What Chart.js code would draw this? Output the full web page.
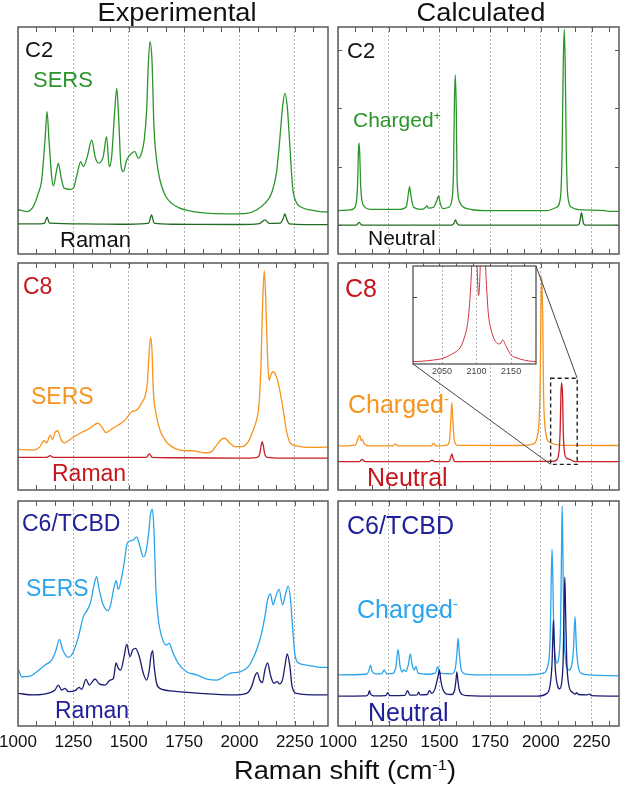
<!DOCTYPE html>
<html>
<head>
<meta charset="utf-8">
<script src="https://cdn.jsdelivr.net/npm/chart.js@4.4.1/dist/chart.umd.min.js"></script>
<style>
  html, body { margin: 0; padding: 0; background: #fff; overflow: hidden; }
  #fig { position: relative; width: 622px; height: 798px; font-family: "Liberation Sans", Arial, sans-serif; }
  #fig canvas { position: absolute; }
  .lbl { position: absolute; line-height: 1; white-space: nowrap; z-index: 5; }
  .ttl { position: absolute; line-height: 1; white-space: nowrap; font-size: 25px; color: #111; z-index: 5;
         transform: translateX(-50%) scaleX(1.09); }
  sup { font-size: 0.6em; position: relative; top: -0.6em; vertical-align: baseline; }
</style>
</head>
<body>
<div id="fig"></div>
<script>
// ---------- DADOS ----------
const xTicks = [1000, 1250, 1500, 1750, 2000, 2250];
const insetTicks = [2050, 2100, 2150];

// C2 - experimental
const c2Sers = [[1000,19.5],[1039,18.7],[1069,20.9],[1092,26.8],[1107,32.6],[1122,50.2],[1131,62.7],[1140,50.2],[1152,34.1],[1160,30.0],[1172,35.6],[1182,40.0],[1194,34.1],[1208,29.0],[1235,28.5],[1250,29.0],[1268,35.6],[1283,40.7],[1295,38.5],[1313,42.9],[1333,50.2],[1348,42.9],[1363,40.0],[1385,42.9],[1400,51.7],[1412,38.5],[1423,42.9],[1435,60.5],[1446,73.0],[1455,59.1],[1464,40.0],[1476,36.3],[1491,41.4],[1513,44.4],[1528,45.1],[1543,42.2],[1558,44.4],[1570,50.2],[1581,63.5],[1588,82.5],[1596,93.6],[1605,85.5],[1614,56.1],[1626,41.4],[1641,32.6],[1664,26.0],[1694,22.3],[1731,20.2],[1791,18.7],[1867,17.9],[1972,17.7],[2032,17.9],[2077,19.4],[2115,22.3],[2145,26.8],[2167,35.6],[2182,50.2],[2195,64.9],[2205,70.8],[2216,64.9],[2228,47.3],[2240,29.7],[2255,23.1],[2280,20.6],[2318,19.4],[2363,18.7],[2400,18.5]];
const c2Raman = [[1000,13.3],[1100,13.3],[1120,13.6],[1131,16.2],[1142,13.6],[1300,13.3],[1500,13.1],[1590,13.6],[1603,17.2],[1615,13.6],[1700,13.1],[2000,13.0],[2090,13.4],[2115,15.0],[2135,13.5],[2185,13.6],[2197,15.5],[2205,17.7],[2213,15.5],[2225,13.3],[2400,12.9]];
// C2 - calculado
const c2Charged = [[1000,19.1],[1061,19.4],[1086,20.9],[1096,29.7],[1101,45.8],[1104,48.8],[1107,44.4],[1112,29.7],[1124,21.6],[1160,19.7],[1307,19.7],[1337,20.9],[1346,26.0],[1353,29.7],[1360,25.3],[1373,20.6],[1414,19.7],[1432,20.6],[1438,21.3],[1446,20.2],[1471,20.6],[1488,23.8],[1496,25.6],[1504,22.3],[1517,20.0],[1545,20.6],[1561,23.8],[1569,35.6],[1574,67.9],[1578,78.9],[1583,63.5],[1587,32.6],[1599,23.1],[1627,20.2],[1733,19.1],[2028,19.1],[2077,20.6],[2097,25.3],[2105,47.3],[2110,82.5],[2115,99.0],[2120,82.5],[2125,45.8],[2133,25.3],[2151,20.6],[2209,19.4],[2320,19.1],[2330,18.8],[2385,18.8]];
const c2Neutral = [[1000,12.7],[1090,12.7],[1104,13.9],[1118,12.7],[1560,12.7],[1572,13.6],[1579,15.0],[1586,13.6],[1598,12.7],[2180,12.7],[2190,13.5],[2196,16.5],[2200,18.2],[2204,16.5],[2210,13.5],[2220,12.7],[2385,12.7]];

// C8 - experimental
const c8Sers = [[1000,17.9],[1069,17.6],[1097,18.8],[1118,21.7],[1130,20.8],[1145,24.2],[1155,22.3],[1167,25.3],[1179,26.1],[1194,22.3],[1210,20.8],[1243,22.8],[1280,25.0],[1325,27.2],[1360,29.4],[1378,27.9],[1397,25.3],[1428,27.2],[1453,28.6],[1483,30.8],[1513,34.5],[1536,35.2],[1558,38.2],[1573,41.1],[1584,47.0],[1593,61.7],[1599,67.2],[1605,61.7],[1611,44.0],[1623,33.8],[1641,26.4],[1664,22.0],[1694,19.1],[1731,17.6],[1791,17.2],[1852,16.4],[1874,16.9],[1897,19.8],[1919,22.3],[1934,22.8],[1957,20.6],[1980,19.1],[2010,19.1],[2040,21.3],[2062,26.4],[2077,30.8],[2089,38.2],[2097,54.3],[2104,79.3],[2112,96.6],[2119,83.7],[2127,58.7],[2134,48.2],[2140,50.2],[2152,52.1],[2167,49.9],[2182,44.0],[2198,35.2],[2213,25.7],[2231,20.6],[2258,19.4],[2303,18.8],[2363,18.8],[2400,18.9]];
const c8Raman = [[1000,14.4],[1130,14.4],[1145,15.1],[1160,14.4],[1580,14.4],[1593,15.9],[1606,14.4],[1750,14.2],[2000,14.0],[2080,14.4],[2092,16.0],[2098,19.5],[2103,21.3],[2108,19.5],[2114,16.0],[2125,14.4],[2250,14.0],[2400,14.0]];
// C8 - calculado
const c8Charged = [[1000,19.4],[1086,19.8],[1097,22.3],[1107,24.1],[1115,21.7],[1120,22.3],[1130,20.3],[1160,19.4],[1270,19.4],[1283,20.3],[1296,19.4],[1460,19.4],[1471,20.6],[1482,19.4],[1537,19.8],[1550,22.0],[1556,30.8],[1561,38.5],[1566,30.8],[1573,22.0],[1589,19.7],[1900,19.6],[1963,20.3],[1982,23.5],[1992,32.3],[1997,49.9],[2000,76.3],[2004,94.2],[2009,76.3],[2013,44.0],[2022,26.4],[2045,20.9],[2110,19.7],[2385,19.6]];
const c8Neutral = [[1000,12.5],[1105,12.5],[1119,13.5],[1133,12.5],[1450,12.5],[1463,13.2],[1476,12.5],[1545,12.5],[1555,14.0],[1561,15.9],[1567,14.0],[1577,12.5],[2060,12.6],[2077,13.2],[2090,17.6],[2095,26.4],[2099,42.6],[2102,47.3],[2107,41.1],[2110,26.4],[2115,17.6],[2127,14.0],[2143,13.5],[2167,12.5],[2385,12.5]];
// C8 - detalhe (inset)
const c8Inset = [[2008,2.4],[2020,2.8],[2038,4.1],[2050,5.5],[2062,9.2],[2070,12.5],[2076,16.5],[2082,26.2],[2087,41.5],[2090,61.9],[2092,85.0],[2097,160],[2103,70.0],[2109,160],[2114,85.0],[2117,51.7],[2120,38.1],[2125,26.2],[2130,21.0],[2134,20.5],[2138,24.5],[2143,17.7],[2150,9.2],[2157,6.5],[2164,4.8],[2175,3.2],[2186,2.4]];

// C6/TCBD - experimental
const c6Sers = [[1000,25.6],[1017,21.9],[1055,22.2],[1085,24.1],[1122,27.1],[1152,29.3],[1172,33.8],[1187,38.5],[1202,33.8],[1228,30.5],[1250,33.0],[1273,39.7],[1295,48.6],[1313,51.5],[1328,55.2],[1345,63.4],[1355,66.4],[1367,60.4],[1385,53.8],[1408,51.3],[1420,54.5],[1431,60.4],[1443,64.6],[1453,60.7],[1464,64.1],[1479,72.3],[1491,80.4],[1498,81.9],[1521,82.6],[1536,84.1],[1551,79.7],[1566,75.2],[1578,77.5],[1590,85.6],[1599,94.5],[1607,96.3],[1614,87.1],[1623,60.4],[1634,47.1],[1649,39.7],[1668,36.0],[1683,36.7],[1698,33.0],[1724,27.8],[1761,24.1],[1807,22.7],[1859,20.7],[1897,20.4],[1957,23.4],[2002,24.1],[2040,26.4],[2065,30.8],[2085,36.0],[2100,41.2],[2115,48.6],[2127,56.0],[2140,58.7],[2152,53.8],[2164,57.5],[2179,60.7],[2195,53.8],[2207,58.2],[2220,62.2],[2231,56.0],[2240,44.1],[2250,32.3],[2265,28.1],[2303,27.1],[2363,26.1],[2400,26.0]];
const c6Raman = [[1000,14.5],[1070,13.8],[1145,14.8],[1167,16.0],[1182,18.2],[1197,16.0],[1212,16.7],[1228,15.3],[1258,15.7],[1276,17.2],[1288,16.3],[1307,20.7],[1322,18.2],[1348,20.9],[1367,18.7],[1393,18.2],[1416,20.4],[1431,21.2],[1443,28.1],[1453,25.6],[1464,24.9],[1479,30.8],[1491,36.4],[1506,30.8],[1518,33.8],[1531,34.5],[1548,30.8],[1566,23.4],[1581,20.4],[1593,24.9],[1600,30.8],[1608,33.5],[1615,26.4],[1626,19.0],[1641,16.7],[1701,15.5],[1822,14.5],[1972,13.8],[2032,14.5],[2055,17.5],[2070,22.2],[2080,23.7],[2092,20.4],[2104,19.3],[2115,24.9],[2127,28.1],[2140,22.7],[2155,19.0],[2170,19.7],[2182,18.7],[2195,20.7],[2205,26.4],[2216,32.0],[2228,26.4],[2238,17.5],[2258,14.5],[2363,13.8],[2400,13.8]];
// C6/TCBD - calculado
const c6Charged = [[1000,22.7],[1140,23.0],[1152,24.5],[1160,27.1],[1168,24.3],[1185,23.2],[1215,23.2],[1228,24.9],[1240,23.2],[1270,23.4],[1285,26.0],[1296,34.1],[1306,26.5],[1316,24.0],[1324,24.9],[1334,24.3],[1346,27.0],[1356,32.0],[1366,27.0],[1376,25.0],[1384,26.4],[1395,23.5],[1440,23.0],[1480,23.5],[1492,26.4],[1502,23.5],[1560,23.2],[1578,25.5],[1586,32.0],[1592,39.0],[1598,32.0],[1607,25.3],[1625,23.2],[1700,22.7],[1950,22.7],[2010,23.5],[2035,27.0],[2046,40.0],[2051,65.0],[2055,78.5],[2059,65.0],[2064,40.0],[2072,30.0],[2079,28.0],[2089,31.0],[2097,45.0],[2102,80.0],[2105,97.7],[2108,80.0],[2113,45.0],[2121,30.0],[2130,25.5],[2138,24.9],[2152,27.0],[2161,35.0],[2168,48.6],[2175,35.0],[2185,26.0],[2200,23.4],[2240,22.7],[2385,22.3]];
const c6Neutral = [[1000,13.3],[1140,13.4],[1150,14.2],[1155,15.7],[1160,14.2],[1175,13.4],[1235,13.5],[1245,14.8],[1255,13.5],[1330,13.6],[1343,15.7],[1355,13.7],[1390,13.8],[1397,15.0],[1405,13.8],[1440,14.0],[1451,15.7],[1462,14.5],[1478,16.5],[1487,19.7],[1493,22.0],[1500,24.9],[1507,20.0],[1518,16.0],[1535,14.2],[1560,14.0],[1575,16.0],[1581,20.0],[1586,24.1],[1591,20.0],[1598,16.0],[1612,14.0],[1640,13.5],[1700,13.3],[1980,13.3],[2030,14.5],[2045,18.0],[2055,28.0],[2059,40.0],[2062,47.1],[2065,40.0],[2070,27.0],[2082,18.0],[2092,16.5],[2102,19.0],[2110,30.0],[2114,50.0],[2118,66.1],[2122,50.0],[2127,30.0],[2138,18.0],[2155,15.0],[2170,14.2],[2176,14.8],[2185,14.0],[2225,13.8],[2238,14.2],[2250,13.5],[2385,13.3]];

// ---------- CORES ----------
const cor = {
  verde: "#2a962a", verdeEsc: "#226c22",
  laranja: "#f7941e", vermelho: "#c81e26",
  azul: "#2aa4ec", marinho: "#1b1b74"
};

// ---------- LAYOUT ----------
const fig = document.getElementById("fig");
const col = { L: { x: 18, w: 310, max: 2400 }, R: { x: 338, w: 281, max: 2385 } };
const row = { T: { y: 27, h: 227 }, M: { y: 263, h: 227 }, B: { y: 501, h: 225 } };
const PAD = 26, PADV = 5, AXIS_H = 30;

const framePlugin = {
  id: "frame",
  afterDraw(chart, args, o) {
    const { ctx, chartArea: a, scales: { x, y } } = chart;
    ctx.save();
    ctx.strokeStyle = o.color || "#5a5a5a";
    ctx.lineWidth = 1;
    ctx.beginPath();
    if (o.minor) {
      for (let v = x.min + o.minor; v < x.max - 1; v += o.minor) {
        const px = Math.round(x.getPixelForValue(v)) + 0.5;
        ctx.moveTo(px, a.top); ctx.lineTo(px, a.top + 5);
        ctx.moveTo(px, a.bottom); ctx.lineTo(px, a.bottom - 5);
      }
    }
    (o.yTicks || []).forEach(v => {
      const py = Math.round(y.getPixelForValue(v)) + 0.5;
      ctx.moveTo(a.left, py); ctx.lineTo(a.left + 4, py);
      ctx.moveTo(a.right, py); ctx.lineTo(a.right - 4, py);
    });
    ctx.stroke();
    ctx.lineWidth = o.width || 1.5;
    ctx.strokeRect(a.left, a.top, a.right - a.left, a.bottom - a.top);
    ctx.restore();
  }
};

const zoomPlugin = {
  id: "zoomBox",
  afterDatasetsDraw(chart, args, o) {
    if (!o.box) return;
    const { ctx, scales: { x, y } } = chart;
    const ox = chart.canvas.offsetLeft, oy = chart.canvas.offsetTop;
    const x0 = x.getPixelForValue(o.box.x0), x1 = x.getPixelForValue(o.box.x1);
    const y0 = y.getPixelForValue(o.box.y0), y1 = y.getPixelForValue(o.box.y1);
    ctx.save();
    ctx.strokeStyle = "#444"; ctx.lineWidth = 1;
    ctx.beginPath();
    ctx.moveTo(o.inset.left - ox, o.inset.bottom - oy); ctx.lineTo(x0, y0);
    ctx.moveTo(o.inset.right - ox, o.inset.top - oy); ctx.lineTo(x1, y1);
    ctx.stroke();
    ctx.strokeStyle = "#222"; ctx.lineWidth = 1.4; ctx.setLineDash([4, 3]);
    ctx.strokeRect(x0, y1, x1 - x0, y0 - y1);
    ctx.restore();
  }
};

function painel(c, r, series, extra = {}) {
  const comEixo = r === row.B;
  const w = c.w + 2 * PAD, h = r.h + 2 * PADV + (comEixo ? AXIS_H : 0);
  const cv = document.createElement("canvas");
  cv.width = w; cv.height = h;
  cv.style.left = (c.x - PAD) + "px"; cv.style.top = (r.y - PADV) + "px";
  cv.style.zIndex = 1;
  fig.appendChild(cv);
  return new Chart(cv, {
    type: "line",
    data: {
      datasets: series.map(s => ({
        data: s.pts.map(p => ({ x: p[0], y: p[1] })),
        borderColor: s.cor, borderWidth: 1.3, pointRadius: 0, fill: false,
        cubicInterpolationMode: "monotone"
      }))
    },
    options: {
      responsive: false, animation: false, devicePixelRatio: 1,
      layout: { padding: { left: PAD, right: PAD, top: PADV, bottom: PADV } },
      plugins: {
        legend: { display: false }, tooltip: { enabled: false },
        frame: { minor: 250 / 3, yTicks: extra.yTicks },
        zoomBox: { box: extra.box, inset: extra.inset }
      },
      scales: {
        x: {
          type: "linear", min: 1000, max: c.max,
          afterBuildTicks: s => { s.ticks = xTicks.map(v => ({ value: v })); },
          grid: { color: "rgba(0,0,0,0.3)", lineWidth: 1, drawTicks: false },
          border: { display: false, dash: [2, 2] },
          ticks: { display: comEixo, autoSkip: false, maxRotation: 0, padding: 6, color: "#111",
                   font: { size: 17, family: "Liberation Sans" }, callback: v => String(v) },
          afterFit: s => { s.height = comEixo ? AXIS_H : 0; }
        },
        y: { display: false, min: 0, max: 100 }
      }
    },
    plugins: [framePlugin, zoomPlugin]
  });
}

// ---------- PAINÉIS ----------
const insetArea = { left: 413, top: 266, right: 536, bottom: 364 };

painel(col.L, row.T, [{ pts: c2Sers, cor: cor.verde }, { pts: c2Raman, cor: cor.verdeEsc }]);
painel(col.R, row.T, [{ pts: c2Charged, cor: cor.verde }, { pts: c2Neutral, cor: cor.verdeEsc }],
  { yTicks: [12.8, 38.5, 64.2, 89.9] });
painel(col.L, row.M, [{ pts: c8Sers, cor: cor.laranja }, { pts: c8Raman, cor: cor.vermelho }]);
painel(col.R, row.M, [{ pts: c8Neutral, cor: cor.vermelho }, { pts: c8Charged, cor: cor.laranja }],
  { box: { x0: 2048, x1: 2179, y0: 11.3, y1: 49.2 }, inset: insetArea });
painel(col.L, row.B, [{ pts: c6Raman, cor: cor.marinho }, { pts: c6Sers, cor: cor.azul }]);
painel(col.R, row.B, [{ pts: c6Neutral, cor: cor.marinho }, { pts: c6Charged, cor: cor.azul }]);

// ---------- INSET ----------
(function () {
  const pl = 14, pt = 2, axisH = 16;
  const w = insetArea.right - insetArea.left + 2 * pl;
  const h = insetArea.bottom - insetArea.top + pt + axisH;
  const cv = document.createElement("canvas");
  cv.width = w; cv.height = h;
  cv.style.left = (insetArea.left - pl) + "px"; cv.style.top = (insetArea.top - pt) + "px";
  cv.style.zIndex = 3;
  fig.appendChild(cv);
  new Chart(cv, {
    type: "line",
    data: { datasets: [{ data: c8Inset.map(p => ({ x: p[0], y: p[1] })), borderColor: "#d0343c",
                         borderWidth: 1, pointRadius: 0, cubicInterpolationMode: "monotone" }] },
    options: {
      responsive: false, animation: false, devicePixelRatio: 1,
      layout: { padding: { left: pl, right: pl, top: pt, bottom: 0 } },
      plugins: { legend: { display: false }, tooltip: { enabled: false },
                 frame: { color: "#444", width: 1.2, yTicks: [68.7] } },
      scales: {
        x: {
          type: "linear", min: 2008, max: 2186,
          afterBuildTicks: s => { s.ticks = insetTicks.map(v => ({ value: v })); },
          grid: { color: "rgba(0,0,0,0.3)", drawTicks: false },
          border: { display: false, dash: [2, 2] },
          ticks: { padding: 2, color: "#444", font: { size: 9, family: "Liberation Sans" },
                   callback: v => String(v) },
          afterFit: s => { s.height = axisH; }
        },
        y: { display: false, min: 0, max: 100 }
      }
    },
    plugins: [{
      id: "fundo",
      beforeDraw(chart) {
        const { ctx, chartArea: a } = chart;
        ctx.save(); ctx.fillStyle = "#fff";
        ctx.fillRect(a.left, a.top, a.right - a.left, a.bottom - a.top);
        ctx.restore();
      }
    }, framePlugin]
  });
})();

// ---------- TEXTOS ----------
function texto(html, x, capTop, size, color) {
  const d = document.createElement("div");
  d.className = "lbl";
  d.innerHTML = html;
  d.style.left = x + "px";
  d.style.top = (capTop - 0.13 * size) + "px";
  d.style.fontSize = size + "px";
  d.style.color = color;
  fig.appendChild(d);
}
function titulo(html, cx, top) {
  const d = document.createElement("div");
  d.className = "ttl";
  d.innerHTML = html;
  d.style.left = cx + "px";
  d.style.top = top + "px";
  fig.appendChild(d);
}

titulo("Experimental", 177, 0);
titulo("Calculated", 481, 0);
titulo("Raman shift (cm<sup>-1</sup>)", 345, 758);

texto("C2", 25, 41.7, 22, "#111");
texto("SERS", 33, 71.7, 22, cor.verde);
texto("Raman", 60, 232, 22, "#111");
texto("C2", 347, 43.3, 22, "#111");
texto("Charged<sup>+</sup>", 353, 112, 21, cor.verde);
texto("Neutral", 368, 230, 21, "#111");

texto("C8", 23, 278.3, 23, "#c4161c");
texto("SERS", 31, 388.3, 23, cor.laranja);
texto("Raman", 52, 465, 23, "#c4161c");
texto("C8", 345, 279.3, 25, "#c4161c");
texto("Charged<sup>-</sup>", 348, 395, 25, cor.laranja);
texto("Neutral", 367, 468.3, 25, "#c4161c");

texto("C6/TCBD", 22, 515, 23, "#20209a");
texto("SERS", 26, 580, 23, cor.azul);
texto("Raman", 55, 701.7, 23, "#20209a");
texto("C6/TCBD", 347, 516, 25, "#20209a");
texto("Charged<sup>-</sup>", 357, 600.7, 25, cor.azul);
texto("Neutral", 368, 703.3, 25, "#20209a");
</script>
</body>
</html>
